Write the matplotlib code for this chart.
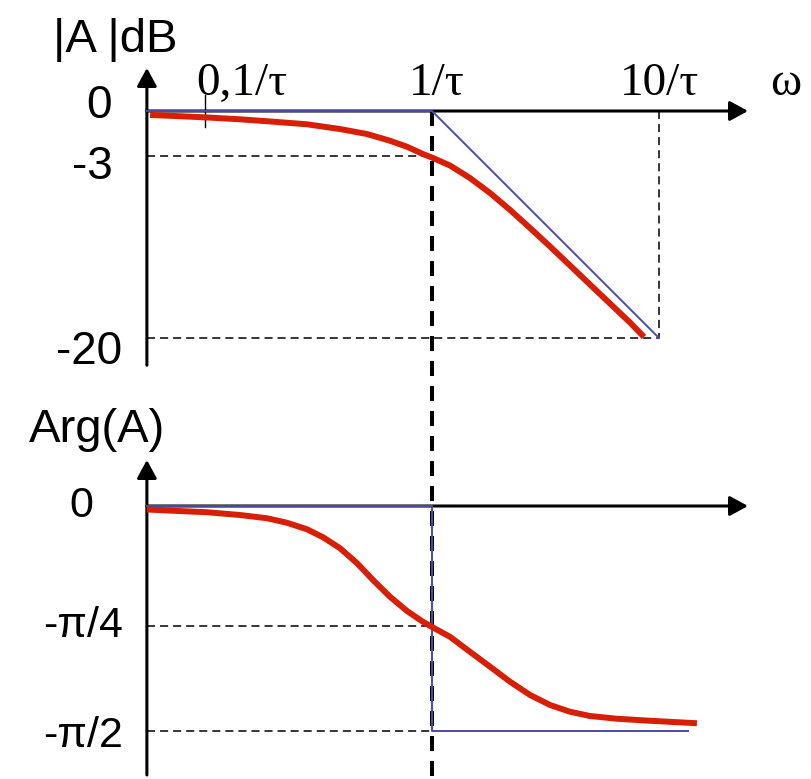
import numpy as np
import matplotlib
matplotlib.use("Agg")
import matplotlib.pyplot as plt

plt.rcParams["lines.scale_dashes"] = False

# Frequency axis in decades: log10(w*tau)
w_ticks = [-1, 0, 1]
w_labels = ["0,1/\u03c4", "1/\u03c4", "10/\u03c4"]

# Gain (dB) levels and their labels
gain_ticks = [0, -3.93, -20]
gain_labels = ["0", "-3", "-20"]

# Phase (degrees) levels and their labels
phase_ticks = [0, -48, -90]
phase_labels = ["0", "-\u03c0/4", "-\u03c0/2"]

# Asymptotic gain (blue)
asym_gain_x = [-1.256, 0, 1]
asym_gain_y = [0, 0, -20]

# Real gain curve (red)
gain_x = [-1.242, -1.132, -1.000, -0.846, -0.700, -0.551, -0.405, -0.286, -0.185,
          -0.110, -0.040, 0.0, 0.079, 0.167, 0.256, 0.344, 0.432, 0.520, 0.608,
          0.696, 0.784, 0.872, 0.934]
gain_y = [-0.35, -0.44, -0.56, -0.73, -0.94, -1.17, -1.59, -2.03, -2.62,
          -3.15, -3.79, -4.10, -4.80, -5.90, -7.23, -8.72, -10.31, -11.94, -13.61,
          -15.29, -16.96, -18.63, -19.91]

# Asymptotic phase (blue)
asym_phase_x = [-1.256, 0, 0, 1.129]
asym_phase_y = [0, 0, -90, -90]

# Real phase curve (red)
phase_x = [-1.256, -1.141, -0.991, -0.846, -0.727, -0.639, -0.551, -0.480, -0.405,
           -0.330, -0.260, -0.185, -0.110, -0.040, 0.0, 0.079, 0.167, 0.256, 0.344,
           0.432, 0.520, 0.608, 0.696, 0.815, 0.960, 1.167]
phase_y = [-1.4, -1.9, -2.5, -3.6, -4.9, -6.7, -9.3, -12.5, -16.9,
           -22.9, -29.6, -36.3, -42.0, -46.3, -48.4, -52.3, -58.3, -64.3, -70.3,
           -75.6, -79.6, -82.3, -84.0, -85.1, -85.9, -86.9]

red = "#d81e05"
blue = "#4b4ba8"
sans = "Liberation Sans"
serif = "Liberation Serif"

W, H = 811, 779
fig = plt.figure(figsize=(W / 100, H / 100), dpi=100)
ax1 = fig.add_axes([0, 1 - 380 / H, 1, 380 / H])
ax2 = fig.add_axes([0, 0, 1, 399 / H])

x_min, x_max = -432 / 227, (W - 432) / 227
x_axis0 = -1.256
for ax in (ax1, ax2):
    ax.set_xlim(x_min, x_max)
    ax.axis("off")
ax1.set_ylim(-23.70, 9.78)
ax2.set_ylim(-109.2, 50.4)

arrow = dict(arrowstyle="-|>,head_length=0.55,head_width=0.3", mutation_scale=20,
             lw=2.2, color="black", shrinkA=0, shrinkB=0)

# ---- gain diagram ----
ax1.annotate("", xy=(x_axis0, 3.79), xytext=(x_axis0, -22.4), arrowprops=arrow, zorder=3)
ax1.annotate("", xy=(1.392, 0), xytext=(x_axis0, 0), arrowprops=arrow, zorder=3)

thin_dash = dict(color="black", lw=1.1, dashes=(5.8, 3.6), zorder=2)
ax1.plot([x_axis0, w_ticks[1]], [gain_ticks[1]] * 2, **thin_dash)
ax1.plot([x_axis0, w_ticks[2]], [gain_ticks[2]] * 2, **thin_dash)
ax1.plot([w_ticks[2]] * 2, [0, gain_ticks[2]], **thin_dash)

# small tick at 0.1/tau
ax1.plot([w_ticks[0]] * 2, [1.4, -1.4], color="black", lw=1.0, zorder=2)

# thick dashed line at 1/tau through both diagrams
ax1.plot([w_ticks[1]] * 2, [0, -58.9], color="black", lw=2.9, dashes=(10.8, 7.2),
         clip_on=False, zorder=2)

ax1.plot(asym_gain_x, asym_gain_y, color=blue, lw=1.4, zorder=4)
ax1.plot(gain_x, gain_y, color=red, lw=4.3, solid_capstyle="butt",
         solid_joinstyle="round", zorder=5)

w_label_x = [-0.837, 0.022, 1.004]
for xv, lab in zip(w_label_x, w_labels):
    ax1.text(xv, 1.41, lab, family=serif, fontsize=34, ha="center", va="baseline")
ax1.text(1.558, 1.41, "\u03c9", family=serif, fontsize=34, ha="center", va="baseline")

gain_label_y = [0.44, -4.93, -21.2]
gain_label_x = [-1.410, -1.405, -1.366]
for xv, yv, lab in zip(gain_label_x, gain_label_y, gain_labels):
    ax1.text(xv, yv, lab, family=sans, fontsize=33, ha="right", va="center")
ax1.text(-1.396, 6.26, "|A |dB", family=sans, fontsize=34, ha="center", va="center")

# ---- phase diagram ----
ax2.annotate("", xy=(x_axis0, 18.4), xytext=(x_axis0, -107.6), arrowprops=arrow, zorder=3)
ax2.annotate("", xy=(1.392, 0), xytext=(x_axis0, 0), arrowprops=arrow, zorder=3)

ax2.plot([x_axis0, w_ticks[1]], [phase_ticks[1]] * 2, **thin_dash)
ax2.plot([x_axis0, w_ticks[1]], [phase_ticks[2]] * 2, **thin_dash)

ax2.plot(asym_phase_x, asym_phase_y, color=blue, lw=1.4, zorder=4)
ax2.plot(phase_x, phase_y, color=red, lw=4.3, solid_capstyle="butt",
         solid_joinstyle="round", zorder=5)

phase_label_y = [0, -48, -92]
phase_label_x = [-1.493, -1.361, -1.361]
for xv, yv, lab in zip(phase_label_x, phase_label_y, phase_labels):
    ax2.text(xv, yv, lab, family=sans, fontsize=31, ha="right", va="center")
ax2.text(-1.476, 30.4, "Arg(A)", family=sans, fontsize=34, ha="center", va="center")

fig.savefig("out.png", dpi=100)
